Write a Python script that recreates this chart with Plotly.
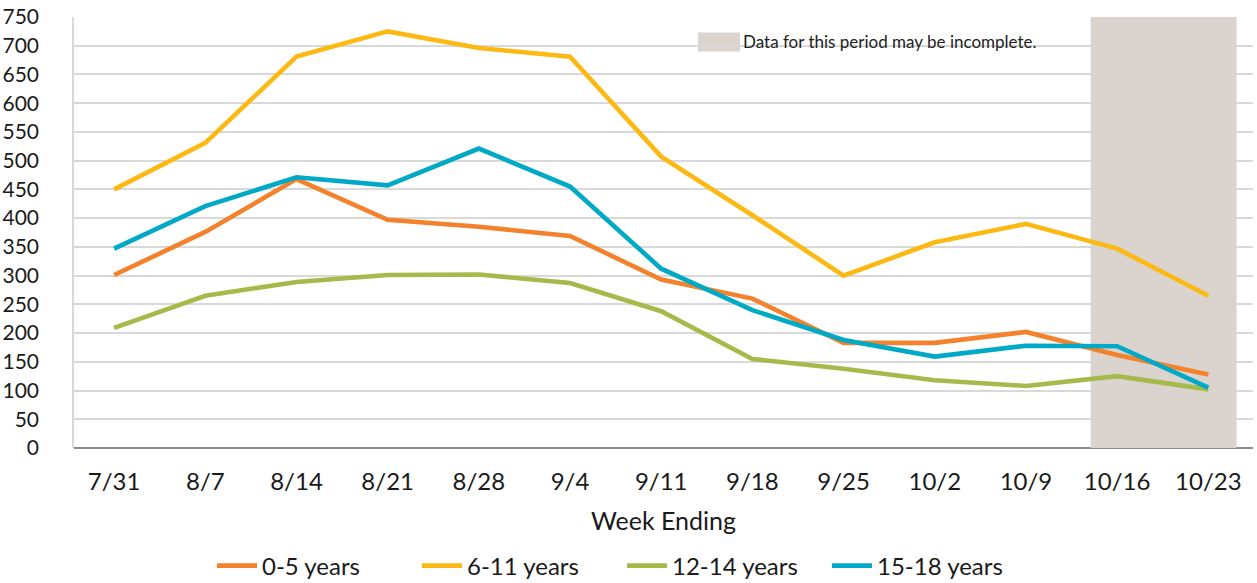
import plotly.graph_objects as go

weeks = ["7/31", "8/7", "8/14", "8/21", "8/28", "9/4", "9/11", "9/18", "9/25", "10/2", "10/9", "10/16", "10/23"]
age_0_5 = [301, 376, 468, 397, 385, 369, 293, 260, 183, 183, 202, 162, 128]
age_6_11 = [450, 531, 681, 725, 696, 681, 507, 405, 300, 358, 390, 347, 265]
age_12_14 = [209, 265, 289, 301, 302, 287, 238, 155, 138, 118, 108, 125, 102]
age_15_18 = [347, 421, 471, 457, 521, 455, 312, 240, 188, 159, 178, 177, 105]

series_names = ["0-5 years", "6-11 years", "12-14 years", "15-18 years"]
series_values = [age_0_5, age_6_11, age_12_14, age_15_18]
colors = ["#F4812B", "#FDB913", "#A5BA4B", "#00A9C6"]

incomplete_start = "10/16"
note_text = "Data for this period may be incomplete."

FONT = "Lato, 'Open Sans', sans-serif"
W, H = 1257, 583
L, R, T, B = 74, 4, 17, 135
PW = W - L - R

fig = go.Figure()
for name, vals, col in zip(series_names, series_values, colors):
    fig.add_trace(go.Scatter(
        x=list(range(len(weeks))), y=vals, name=name, mode="lines",
        line=dict(color=col, width=4.6),
    ))

i0 = weeks.index(incomplete_start)
# shaded incomplete period
fig.add_shape(type="rect", xref="x", yref="y",
              x0=i0 - 0.29, x1=i0 + 1.31, y0=-2, y1=750,
              fillcolor="#DBD3CE", line=dict(width=0), layer="between")
# note box (white background over gridlines)
fig.add_shape(type="rect", xref="paper", yref="y",
              x0=(690 - L) / PW, x1=(1046 - L) / PW, y0=680, y1=733,
              fillcolor="white", line=dict(width=0), layer="between")
fig.add_shape(type="rect", xref="paper", yref="y",
              x0=(698 - L) / PW, x1=(740 - L) / PW, y0=690, y1=723,
              fillcolor="#DBD3CE", line=dict(width=0), layer="between")
fig.add_annotation(xref="paper", yref="y", x=(741 - L) / PW, y=707,
                   text=note_text, showarrow=False, xanchor="left", yanchor="middle",
                   font=dict(family=FONT, size=17, color="#222222"))

fig.update_layout(
    width=W, height=H,
    margin=dict(l=L, r=R, t=T, b=B),
    paper_bgcolor="white", plot_bgcolor="white",
    font=dict(family=FONT, size=21, color="#1a1a1a"),
    showlegend=True,
    legend=dict(orientation="h", xref="container", yref="container",
                x=212 / W, xanchor="left", y=1 - 566 / H, yanchor="middle",
                font=dict(family=FONT, size=24, color="#1a1a1a"),
                entrywidth=150, entrywidthmode="pixels",
                itemwidth=40, tracegroupgap=0),
    xaxis=dict(
        tickmode="array", tickvals=list(range(len(weeks))), ticktext=weeks,
        range=[-0.44, 12.49], showgrid=False, zeroline=False,
        showline=False, ticks="", ticklabelstandoff=17, automargin=False,
        tickfont=dict(family=FONT, size=24, color="#1a1a1a"),
        title=dict(text="Week Ending", font=dict(family=FONT, size=25, color="#1a1a1a"), standoff=18),
    ),
    yaxis=dict(
        range=[0, 750], tickmode="linear", tick0=0, dtick=50,
        showgrid=True, gridcolor="#D9D9D9", gridwidth=1.5,
        zeroline=True, zerolinecolor="#8C8C8C", zerolinewidth=2,
        showline=True, linecolor="#D9D9D9", linewidth=1.5,
        ticks="", ticklabelstandoff=29, automargin=False,
        tickfont=dict(family=FONT, size=21, color="#1a1a1a"),
    ),
)

fig.write_html("out.html", config={"displayModeBar": False},
               post_script="document.body.style.margin='0';document.body.style.overflow='hidden';")
